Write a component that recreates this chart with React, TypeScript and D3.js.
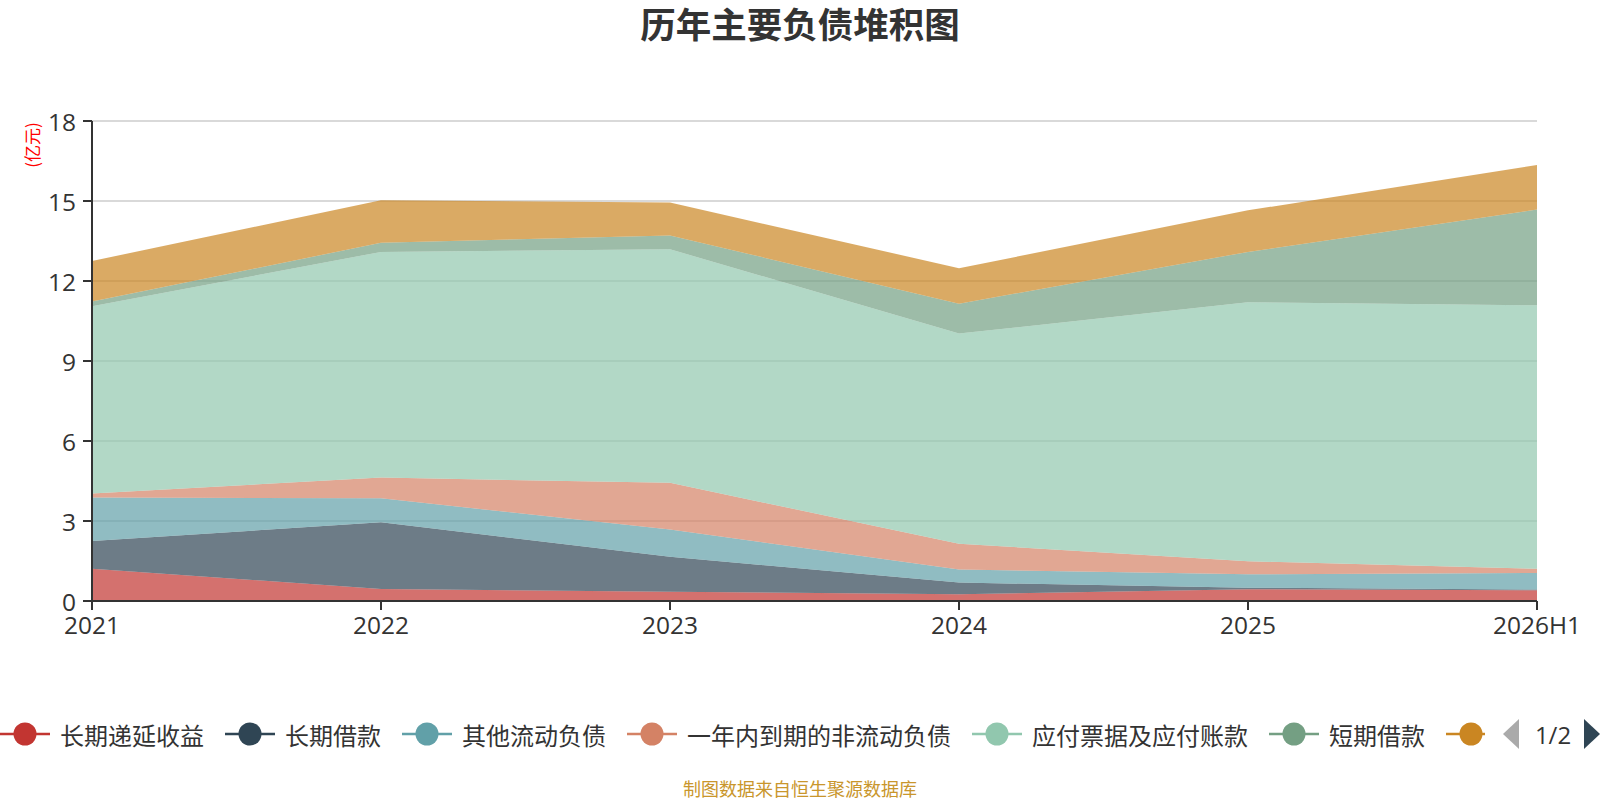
import React from "react";
import * as d3 from "d3";

const categories = ["2021", "2022", "2023", "2024", "2025", "2026H1"];
const yTicks = [0, 3, 6, 9, 12, 15, 18];

const seriesNames = [
  "长期递延收益",
  "长期借款",
  "其他流动负债",
  "一年内到期的非流动负债",
  "应付票据及应付账款",
  "短期借款",
  "应付职工薪酬",
];
const seriesColors = ["#c23531", "#2f4554", "#61a0a8", "#d48265", "#91c7ae", "#749f83", "#ca8622"];

const deferredIncome = [1.21, 0.45, 0.35, 0.25, 0.44, 0.4];
const longTermLoans = [1.04, 2.5, 1.31, 0.44, 0.06, 0.03];
const otherCurrent = [1.63, 0.9, 1.02, 0.49, 0.5, 0.62];
const currentPortionNonCurrent = [0.15, 0.78, 1.75, 0.97, 0.49, 0.16];
const notesAndAccountsPayable = [7.02, 8.46, 8.76, 7.88, 9.71, 9.88];
const shortTermLoans = [0.18, 0.34, 0.52, 1.12, 1.89, 3.59];
const payrollPayable = [1.52, 1.6, 1.23, 1.33, 1.56, 1.67];

const seriesValues = [
  deferredIncome,
  longTermLoans,
  otherCurrent,
  currentPortionNonCurrent,
  notesAndAccountsPayable,
  shortTermLoans,
  payrollPayable,
];

// number of legend entries whose labels are visible on legend page 1
const visibleLegendLabels = 6;

const W = 1600;
const H = 800;
const left = 92;
const right = 1537;
const top = 121;
const bottom = 601;

const CJK = "'Noto Sans CJK SC', 'Open Sans', sans-serif";
const NUM = "'Open Sans', 'Noto Sans CJK SC', sans-serif";

export default function App() {
  const x = d3.scalePoint<string>().domain(categories).range([left, right]);
  const y = d3.scaleLinear().domain([0, 18]).range([bottom, top]);

  const rows = categories.map((c, i) => {
    const r: Record<string, any> = { cat: c };
    seriesNames.forEach((n, k) => (r[n] = seriesValues[k][i]));
    return r;
  });
  const stacked = d3.stack<any>().keys(seriesNames)(rows);
  const area = d3
    .area<any>()
    .x((d) => x(d.data.cat) as number)
    .y0((d) => y(d[0]))
    .y1((d) => y(d[1]));

  // legend layout
  const fontSize = 24;
  const iconW = 50;
  const textGap = 10;
  const itemGap = 21;
  let cx = 0;
  const legendItems = seriesNames.map((n, i) => {
    const item = { name: n, color: seriesColors[i], x: cx, showLabel: i < visibleLegendLabels };
    cx += iconW + textGap + n.length * fontSize + itemGap;
    return item;
  });
  const legendY = 734;

  return (
    <svg
      width={W}
      height={H}
      style={{ position: "absolute", left: 0, top: 0, background: "#fff" }}
    >
      <defs>
        <clipPath id="legendClip">
          <rect x={0} y={700} width={1485} height={70} />
        </clipPath>
      </defs>
      <text
        x={800}
        y={38}
        textAnchor="middle"
        fontFamily={CJK}
        fontWeight="bold"
        fontSize={35.5}
        fill="#333"
      >
        历年主要负债堆积图
      </text>

      {/* grid */}
      {yTicks.map((t) => (
        <line key={t} x1={left} x2={right} y1={y(t)} y2={y(t)} stroke="#ccc" strokeWidth={1.5} />
      ))}

      {/* areas */}
      {stacked.map((s, i) => (
        <path key={s.key} d={area(s) || ""} fill={seriesColors[i]} fillOpacity={0.7} stroke="none" />
      ))}

      {/* y axis */}
      <line x1={left} x2={left} y1={top} y2={bottom} stroke="#333" strokeWidth={2} />
      {yTicks.map((t) => (
        <g key={t}>
          <line x1={left - 9} x2={left} y1={y(t)} y2={y(t)} stroke="#333" strokeWidth={2} />
          <text
            x={left - 16}
            y={y(t)}
            textAnchor="end"
            dominantBaseline="central"
            fontFamily={NUM}
            fontSize={24.5}
            fill="#333"
          >
            {t}
          </text>
        </g>
      ))}
      <text
        transform={`translate(31,145) rotate(-90)`}
        textAnchor="middle"
        dominantBaseline="central"
        fontFamily={CJK}
        fontSize={17}
        fill="#ff0000"
      >
        (亿元)
      </text>

      {/* x axis */}
      <line x1={left} x2={right} y1={bottom} y2={bottom} stroke="#333" strokeWidth={2} />
      {categories.map((c) => (
        <g key={c}>
          <line x1={x(c)} x2={x(c)} y1={bottom} y2={bottom + 9} stroke="#333" strokeWidth={2} />
          <text x={x(c)} y={634} textAnchor="middle" fontFamily={NUM} fontSize={24.5} fill="#333">
            {c}
          </text>
        </g>
      ))}

      {/* legend */}
      <g clipPath="url(#legendClip)">
        {legendItems.map((it) => (
          <g key={it.name}>
            <line
              x1={it.x}
              x2={it.x + iconW}
              y1={legendY}
              y2={legendY}
              stroke={it.color}
              strokeWidth={2.5}
            />
            <circle cx={it.x + iconW / 2} cy={legendY} r={11.5} fill={it.color} />
            {it.showLabel && (
              <text
                x={it.x + iconW + textGap}
                y={legendY}
                dominantBaseline="central"
                fontFamily={CJK}
                fontSize={fontSize}
                fill="#333"
              >
                {it.name}
              </text>
            )}
          </g>
        ))}
      </g>
      <path d={`M1503,${legendY} L1519,${legendY - 15} L1519,${legendY + 15} Z`} fill="#aaa" />
      <text
        x={1553}
        y={legendY}
        textAnchor="middle"
        dominantBaseline="central"
        fontFamily={NUM}
        fontSize={24}
        fill="#333"
      >
        1/2
      </text>
      <path d={`M1584,${legendY - 15} L1600,${legendY} L1584,${legendY + 15} Z`} fill="#2f4554" />

      <text
        x={800}
        y={796}
        textAnchor="middle"
        fontFamily={CJK}
        fontSize={18}
        fill="#c9962c"
      >
        制图数据来自恒生聚源数据库
      </text>
    </svg>
  );
}
